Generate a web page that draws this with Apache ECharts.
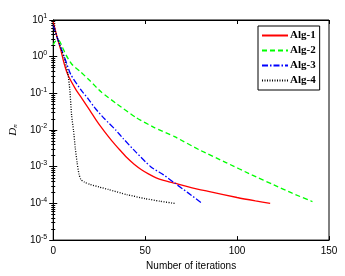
<!DOCTYPE html>
<html><head><meta charset="utf-8">
<script src="https://cdn.jsdelivr.net/npm/echarts@6/dist/echarts.min.js"></script>
<style>html,body{margin:0;padding:0;background:#fff}#c{width:345px;height:276px}</style>
</head><body><div id="c"></div>
<script>
const seriesNames = ['Alg-1', 'Alg-2', 'Alg-3', 'Alg-4'];
const alg1It = [0, 2, 4, 6, 8, 12, 16, 20, 24, 28, 32, 36, 40, 44, 48, 52, 56, 60, 66, 75, 85, 100, 110, 118];
const alg1Val = [8.9, 3.55, 1.58, 0.63, 0.316, 0.135, 0.0676, 0.0339, 0.0166, 0.0089, 0.005, 0.00295, 0.00178, 0.00117, 8.3e-4, 6.3e-4, 5.0e-4, 4.27e-4, 3.55e-4, 2.7e-4, 2.1e-4, 1.45e-4, 1.17e-4, 1.0e-4];
const alg2It = [0, 1, 3, 5, 7, 10, 15, 20, 26, 35, 45, 55, 66, 80, 94, 108, 120, 130, 141];
const alg2Val = [2.1, 2.6, 2.8, 1.8, 1.1, 0.63, 0.38, 0.22, 0.11, 0.05, 0.022, 0.0117, 0.0066, 0.0028, 0.0013, 6.0e-4, 3.2e-4, 1.9e-4, 1.12e-4];
const alg3It = [0, 3, 6, 9.5, 15, 19, 23, 28, 34, 38, 45, 53, 60, 66, 73, 81];
const alg3Val = [7.1, 2.5, 1.0, 0.33, 0.126, 0.071, 0.038, 0.02, 0.01, 0.0059, 0.0025, 0.001, 6.0e-4, 3.6e-4, 2.0e-4, 1.0e-4];
const alg4It = [0, 2, 4, 6, 7, 8, 9, 10, 11, 12, 13, 14, 15, 17, 20, 25, 30, 40, 50, 58, 66];
const alg4Val = [7.9, 3.5, 1.8, 0.9, 0.56, 0.35, 0.126, 0.025, 0.01, 0.0032, 0.00126, 6.3e-4, 4.5e-4, 3.8e-4, 3.3e-4, 2.8e-4, 2.4e-4, 1.74e-4, 1.35e-4, 1.15e-4, 1.0e-4];
const xTicks = [0, 50, 100, 150];

const pairs = (xs, ys) => xs.map((x, i) => [x, ys[i]]);
const colors = ['#ff0000', '#00ff00', '#0000ff', '#000000'];
const dashes = ['solid', [5, 3], [6, 2, 1.5, 2], [1, 1.5]];
const datas = [pairs(alg1It, alg1Val), pairs(alg2It, alg2Val), pairs(alg3It, alg3Val), pairs(alg4It, alg4Val)];

const supFmt = v => {
  const e = Math.round(Math.log10(v));
  return '{b|10}{s|' + e + '}';
};
const rich = {
  b: {fontSize: 10, fontFamily: 'Liberation Sans', color: '#000', lineHeight: 14},
  s: {fontSize: 7, fontFamily: 'Liberation Sans', color: '#000', lineHeight: 14, verticalAlign: 'top', padding: [0, 0, 6, 0]}
};
const axisLine = {show: true, lineStyle: {color: '#000', width: 1}};

const chart = echarts.init(document.getElementById('c'), null, {renderer: 'canvas'});
chart.setOption({
  animation: false,
  backgroundColor: '#fff',
  grid: {left: 46, right: 16, top: 20, bottom: 33, show: true, borderColor: '#000', borderWidth: 1},
  legend: {
    orient: 'vertical', left: 258, top: 26, itemWidth: 26, itemHeight: 8, itemGap: 4,
    padding: [4, 4, 4, 3], borderColor: '#000', borderWidth: 1, backgroundColor: '#fff',
    itemStyle: {opacity: 0},
    textStyle: {fontFamily: 'Liberation Serif', fontWeight: 'bold', fontSize: 11, lineHeight: 10, color: '#000', padding: [0, 0, 0, -3]},
    data: seriesNames
  },
  xAxis: [{
    type: 'value', min: 0, max: 150, interval: 50, position: 'bottom',
    axisLine, axisTick: {show: true, inside: true, length: 4, lineStyle: {color: '#000'}},
    axisLabel: {fontFamily: 'Liberation Sans', fontSize: 10, color: '#000', margin: 6,
      formatter: v => xTicks.includes(v) ? String(v) : ''},
    splitLine: {show: false},
    name: 'Number of iterations', nameLocation: 'middle', nameGap: 20,
    nameTextStyle: {fontFamily: 'Liberation Sans', fontSize: 10, color: '#000'}
  }, {
    type: 'value', min: 0, max: 150, interval: 50, position: 'top',
    axisLine, axisTick: {show: true, inside: true, length: 4, lineStyle: {color: '#000'}},
    axisLabel: {show: false}, splitLine: {show: false}
  }],
  yAxis: [{
    type: 'log', logBase: 10, min: 1e-5, max: 10, position: 'left',
    axisLine, axisTick: {show: true, inside: true, length: 4, lineStyle: {color: '#000'}},
    minorTick: {show: true, splitNumber: 9, length: 2, lineStyle: {color: '#000'}},
    axisLabel: {formatter: supFmt, rich, margin: 6},
    splitLine: {show: false},
    name: '{d|D}{n|n}', nameLocation: 'middle', nameGap: 30, nameRotate: 90,
    nameTextStyle: {rich: {
      d: {fontFamily: 'Liberation Serif', fontStyle: 'italic', fontSize: 11, color: '#000'},
      n: {fontFamily: 'Liberation Serif', fontStyle: 'italic', fontSize: 7, color: '#000', verticalAlign: 'bottom', padding: [4, 0, 0, 0]}
    }}
  }, {
    type: 'log', logBase: 10, min: 1e-5, max: 10, position: 'right',
    axisLine, axisTick: {show: true, inside: true, length: 4, lineStyle: {color: '#000'}},
    minorTick: {show: true, splitNumber: 9, length: 2, lineStyle: {color: '#000'}},
    axisLabel: {show: false}, splitLine: {show: false}
  }],
  series: datas.map((d, i) => ({
    name: seriesNames[i], type: 'line', data: d, showSymbol: false, symbol: 'none', smooth: 0.2,
    xAxisIndex: 0, yAxisIndex: 0,
    lineStyle: {color: colors[i], width: 1.3, type: dashes[i]},
    itemStyle: {color: colors[i]}
  }))
});
</script></body></html>
